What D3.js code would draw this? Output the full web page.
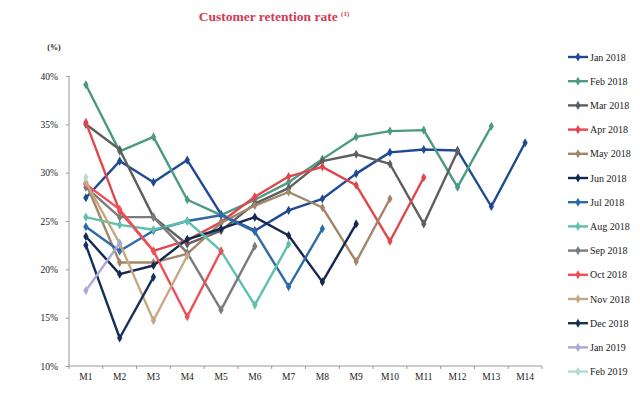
<!DOCTYPE html>
<html>
<meta charset="utf-8">
<title>customer retention</title>
<style>
html,body{
  margin:0;
  background:#fff;
}
svg text {
  font-family: "Liberation Serif", "Times New Roman", serif;
  fill: #222;
}
.axis path, .axis line {
  stroke: #9a9a9a;
}
</style>
<script src="https://cdn.jsdelivr.net/npm/d3@7"></script>
<body>
<script>

var months = ["M1","M2","M3","M4","M5","M6","M7","M8","M9","M10","M11","M12","M13","M14"];
var yTicks = [10, 15, 20, 25, 30, 35, 40];

var cohorts = ["Jan 2018","Feb 2018","Mar 2018","Apr 2018","May 2018","Jun 2018","Jul 2018",
               "Aug 2018","Sep 2018","Oct 2018","Nov 2018","Dec 2018","Jan 2019","Feb 2019"];

var colors = ["#1f4a93","#4b9a83","#5e5e5e","#e2464d","#a3866a","#15284f","#2e6aa6",
              "#5fc0ae","#7b7b7b","#ef4f58","#c6a984","#173058","#aaa8d6","#b0ddd2"];

// retention (%) per cohort, M1.. onwards
var jan18 = [27.4, 31.2, 29.0, 31.3, 25.7, 24.0, 26.1, 27.3, 29.9, 32.1, 32.4, 32.3, 26.5, 33.1];
var feb18 = [39.1, 32.2, 33.7, 27.2, 25.6, 27.2, 29.0, 31.4, 33.7, 34.3, 34.4, 28.5, 34.8];
var mar18 = [35.0, 32.4, 25.4, 22.6, 24.0, 26.8, 28.4, 31.2, 31.9, 30.9, 24.7, 32.2];
var apr18 = [35.2, 26.0, 21.9, 23.0, 24.9, 27.5, 29.6, 30.6, 28.7, 22.9, 29.5];
var may18 = [28.9, 20.7, 20.7, 21.6, 24.8, 26.6, 28.0, 26.4, 20.8, 27.3];
var jun18 = [23.4, 19.5, 20.4, 23.1, 24.2, 25.4, 23.5, 18.7, 24.7];
var jul18 = [24.4, 21.9, 24.0, 25.0, 25.6, 23.9, 18.2, 24.2];
var aug18 = [25.4, 24.6, 24.1, 25.0, 21.9, 16.3, 22.6];
var sep18 = [28.5, 25.4, 25.4, 21.7, 15.8, 22.4];
var oct18 = [28.8, 26.2, 21.9, 15.1, 21.9];
var nov18 = [29.0, 22.7, 14.7, 21.4];
var dec18 = [22.5, 12.9, 19.2];
var jan19 = [17.8, 22.7];
var feb19 = [29.5];

var series = [jan18, feb18, mar18, apr18, may18, jun18, jul18,
              aug18, sep18, oct18, nov18, dec18, jan19, feb19];

var width = 640, height = 393;

var svg = d3.select("body").append("svg")
    .attr("width", width)
    .attr("height", height);

var x = d3.scaleBand()
    .domain(months)
    .range([69, 542]);

var y = d3.scaleLinear()
    .domain([10, 40])
    .range([366, 76]);

// title
var title = svg.append("text")
    .attr("x", 274)
    .attr("y", 21)
    .attr("text-anchor", "middle")
    .style("font-size", "13.5px")
    .style("font-weight", "bold")
    .style("fill", "#d23a55");
title.append("tspan").text("Customer retention rate ");
title.append("tspan")
    .attr("dy", -5)
    .style("font-size", "7px")
    .text("(1)");

svg.append("text")
    .attr("x", 54)
    .attr("y", 50)
    .attr("text-anchor", "middle")
    .style("font-size", "8px")
    .style("font-weight", "bold")
    .text("(%)");

// axes
var yAxis = svg.append("g")
    .attr("class", "axis")
    .attr("transform", "translate(69,0)")
    .call(d3.axisLeft(y).tickValues(yTicks).tickSize(3).tickPadding(8)
      .tickFormat(function(d){ return d + "%"; }));

var xAxis = svg.append("g")
    .attr("class", "axis")
    .attr("transform", "translate(0,366)")
    .call(d3.axisBottom(x).tickSize(0).tickPadding(7));

// excel style ticks between categories
xAxis.selectAll("line.sep")
    .data(months.concat(["end"]))
  .enter().append("line")
    .attr("class", "sep")
    .attr("x1", function(d, i){ return x.range()[0] + i * x.step(); })
    .attr("x2", function(d, i){ return x.range()[0] + i * x.step(); })
    .attr("y1", 0)
    .attr("y2", 3);

svg.selectAll(".axis text")
    .style("font-family", "'Liberation Serif', serif")
    .style("font-size", "9.5px")
    .style("fill", "#222");
yAxis.select(".domain").attr("d", "M0,76V366");
xAxis.select(".domain").attr("d", "M69,0H542");

var line = d3.line()
    .x(function(d, i){ return x(months[i]) + x.bandwidth() / 2; })
    .y(function(d){ return y(d); });

var diamond = d3.symbol().type(d3.symbolDiamond).size(24);

var groups = svg.selectAll("g.cohort")
    .data(series)
  .enter().append("g")
    .attr("class", "cohort");

groups.append("path")
    .attr("d", function(d){ return line(d); })
    .attr("fill", "none")
    .attr("stroke", function(d, i){ return colors[i]; })
    .attr("stroke-width", 2.4)
    .attr("stroke-linejoin", "round");

groups.each(function(d, i){
  d3.select(this).selectAll("path.pt")
      .data(d)
    .enter().append("path")
      .attr("class", "pt")
      .attr("d", diamond)
      .attr("transform", function(v, j){
        return "translate(" + (x(months[j]) + x.bandwidth() / 2) + "," + y(v) + ")";
      })
      .attr("fill", colors[i]);
});

// legend
var legend = svg.selectAll("g.legend")
    .data(cohorts)
  .enter().append("g")
    .attr("class", "legend")
    .attr("transform", function(d, i){ return "translate(568," + (57 + i * 24.2) + ")"; });

legend.append("line")
    .attr("x1", 0)
    .attr("x2", 20)
    .attr("stroke", function(d, i){ return colors[i]; })
    .attr("stroke-width", 2.4);

legend.append("path")
    .attr("d", diamond)
    .attr("transform", "translate(10,0)")
    .attr("fill", function(d, i){ return colors[i]; });

legend.append("text")
    .attr("x", 22)
    .attr("y", 3.5)
    .style("font-size", "10px")
    .text(function(d){ return d; });

</script>
</body>
</html>
